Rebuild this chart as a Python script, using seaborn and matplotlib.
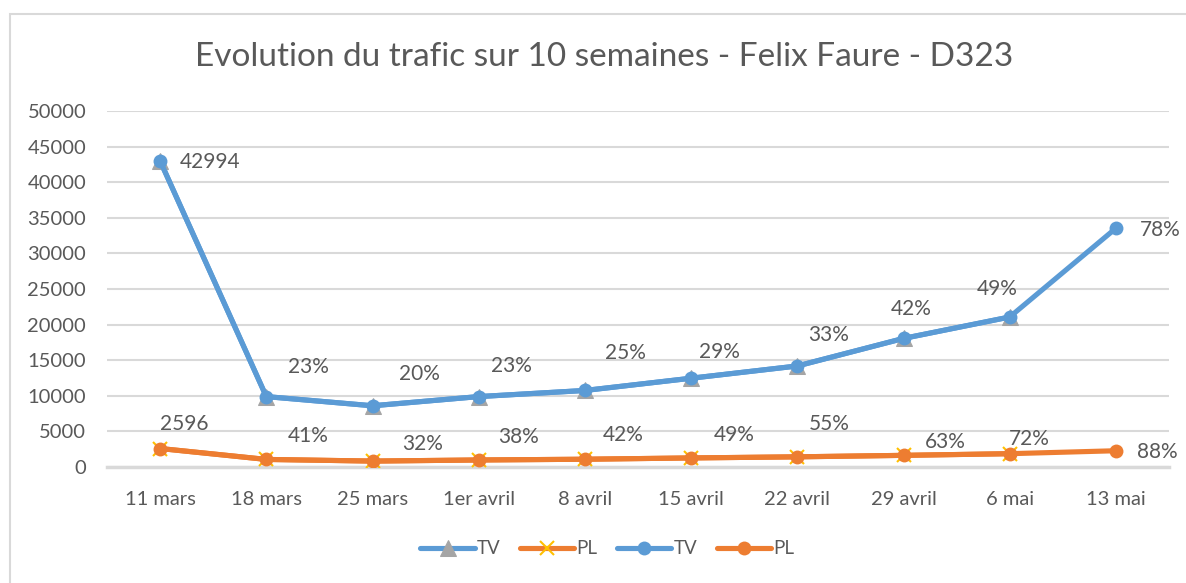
import numpy as np
import pandas as pd
import matplotlib
matplotlib.use("Agg")
import matplotlib.pyplot as plt
import seaborn as sns
from matplotlib.patches import Rectangle

# ==================================================
# DATA
# ==================================================

weeks = ["11 mars", "18 mars", "25 mars", "1er avril", "8 avril",
         "15 avril", "22 avril", "29 avril", "6 mai", "13 mai"]

tv_values = [42994, 9889, 8599, 9889, 10749, 12468, 14188, 18057, 21067, 33535]
pl_values = [2596, 1064, 831, 986, 1090, 1272, 1428, 1635, 1869, 2284]

tv_labels = ["42994", "23%", "20%", "23%", "25%", "29%", "33%", "42%", "49%", "78%"]
pl_labels = ["2596", "41%", "32%", "38%", "42%", "49%", "55%", "63%", "72%", "88%"]

y_ticks = [0, 5000, 10000, 15000, 20000, 25000, 30000, 35000, 40000, 45000, 50000]

# label offsets in pixels (dx, dy)
tv_offsets = [(50, -1), (42, 30), (47, 32), (33, 31), (41, 37),
              (28, 26), (31, 31), (8, 29), (-12, 28), (44, -2)]
pl_offsets = [(24, 25), (42, 23), (50, 17), (40, 23), (38, 24),
              (43, 23), (32, 33), (42, 13), (20, 15), (41, -1)]

# ==================================================
# STYLE
# ==================================================

sns.set_style("white")
plt.rcParams["font.family"] = ["Lato", "DejaVu Sans"]

BLUE = "#5b9bd5"
ORANGE = "#ed7d31"
GREY = "#a5a5a5"
YELLOW = "#ffc000"
TEXT = "#595959"
GRID = "#d9d9d9"

fig = plt.figure(figsize=(11.86, 5.83), dpi=100)
ax = fig.add_axes([107 / 1186, 1 - 467 / 583, (1169 - 107) / 1186, (467 - 111) / 583])

x = np.arange(len(weeks))
df = pd.DataFrame({"x": x, "TV": tv_values, "PL": pl_values})
first = df.iloc[:-1]

# triangle / cross series (first 9 weeks)
sns.lineplot(data=first, x="x", y="TV", ax=ax, color=BLUE, lw=3.7,
             marker="^", markersize=11, markerfacecolor=GREY,
             markeredgecolor=GREY, label="TV", zorder=3)
sns.lineplot(data=first, x="x", y="PL", ax=ax, color=ORANGE, lw=3.7,
             marker="x", markersize=10, markeredgewidth=1.5,
             markeredgecolor=YELLOW, label="PL", zorder=3)

# circle series (all weeks)
sns.lineplot(data=df, x="x", y="TV", ax=ax, color=BLUE, lw=3.7,
             marker="o", markersize=10, markeredgewidth=0,
             label="TV", zorder=4)
sns.lineplot(data=df, x="x", y="PL", ax=ax, color=ORANGE, lw=3.7,
             marker="o", markersize=10, markeredgewidth=0,
             label="PL", zorder=4)

# data labels
for xi, yi, txt, off in zip(x, tv_values, tv_labels, tv_offsets):
    ax.annotate(txt, (xi, yi), xytext=off, textcoords="offset pixels",
                ha="center", va="center", fontsize=15, color=TEXT)
for xi, yi, txt, off in zip(x, pl_values, pl_labels, pl_offsets):
    ax.annotate(txt, (xi, yi), xytext=off, textcoords="offset pixels",
                ha="center", va="center", fontsize=15, color=TEXT)

# axes
ax.set_xlim(-0.5, len(weeks) - 0.5)
ax.set_ylim(0, 50000)
ax.set_xticks(x)
ax.set_xticklabels(weeks)
ax.set_yticks(y_ticks)
ax.set_yticklabels([str(v) for v in y_ticks])
ax.tick_params(axis="x", length=0, pad=17, labelsize=14.5, labelcolor=TEXT)
ax.tick_params(axis="y", length=0, pad=15, labelsize=14.5, labelcolor=TEXT)
ax.set_xlabel("")
ax.set_ylabel("")
ax.grid(axis="y", color=GRID, lw=1.5)
ax.set_axisbelow(True)
for side in ["top", "right", "left"]:
    ax.spines[side].set_visible(False)
ax.spines["bottom"].set_color(GRID)
ax.spines["bottom"].set_linewidth(2.5)

# legend, centred under the plot area
ax.legend(loc="center", bbox_to_anchor=(0.471, -0.23),
          ncol=4, frameon=False, fontsize=13.5, labelcolor=TEXT,
          handlelength=2.9, handletextpad=0.1, columnspacing=1.05)

# title
fig.text(604 / 1186, 1 - 57 / 583, "Evolution du trafic sur 10 semaines - Felix Faure - D323",
         ha="center", va="center", fontsize=24, color=TEXT)

# chart border
fig.patches.append(Rectangle((10 / 1186, -0.1), 1.2, 1 - 14 / 583 + 0.1,
                             transform=fig.transFigure, fill=False,
                             edgecolor="#d9d9d9", lw=1.5))

fig.savefig("out.png", dpi=100)
